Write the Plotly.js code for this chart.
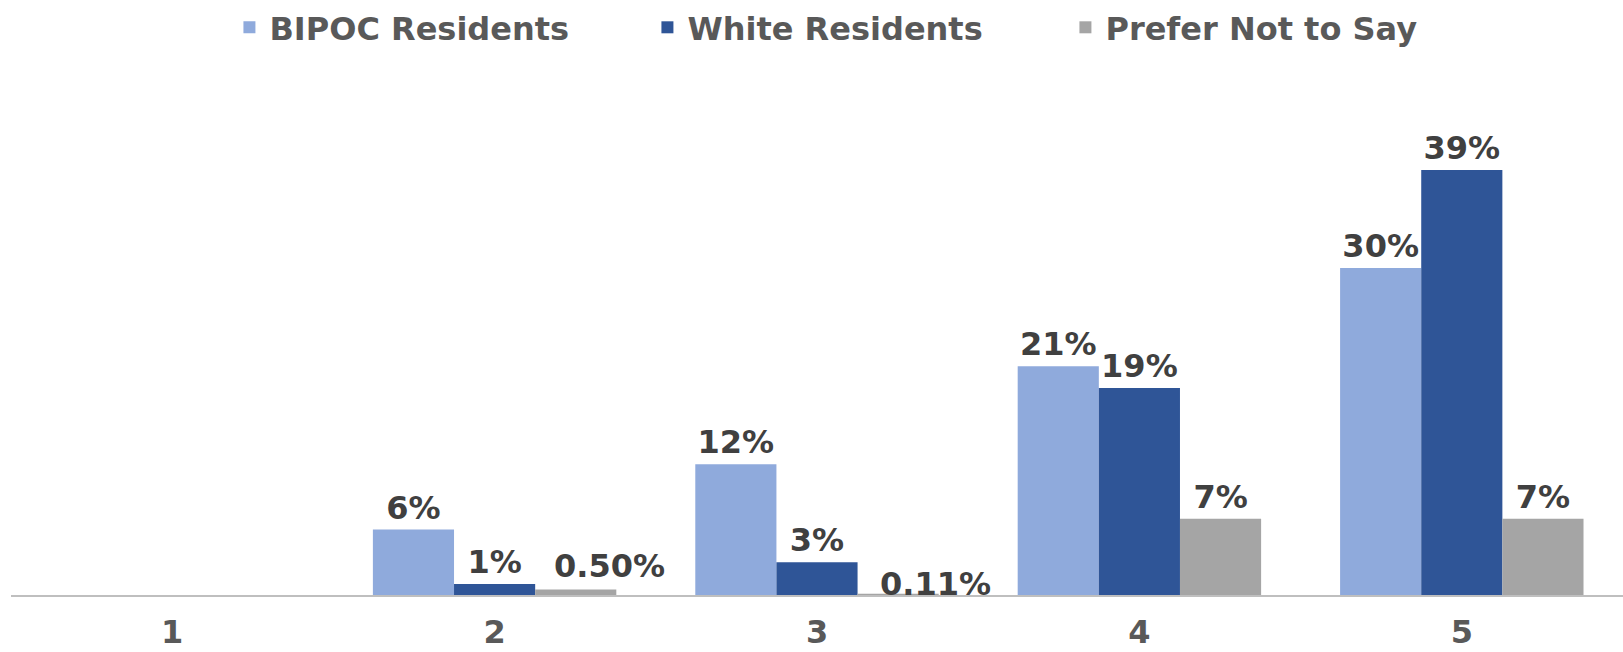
<!DOCTYPE html>
<html>
<head>
<meta charset="utf-8">
<script src="https://cdn.plot.ly/plotly-3.0.1.min.js"></script>
<style>
  html, body { margin: 0; padding: 0; background: #ffffff; }
  #chart { width: 1623px; height: 652px; }
</style>
</head>
<body>
<div id="chart"></div>
<script>
// Rating categories (1-5) and share of respondents in each group
const categories = ['1', '2', '3', '4', '5'];
const bipocValues = [null, 6, 12, 21, 30];
const whiteValues = [null, 1, 3, 19, 39];
const preferValues = [null, 0.5, 0.11, 7, 7];

const seriesNames = ['BIPOC Residents', 'White Residents', 'Prefer Not to Say'];
const seriesColors = ['#8faadc', '#2f5597', '#a5a5a5'];

// Small shares get two decimals, whole shares none
function pctLabel(v) {
  if (v === null) return '';
  return (v < 1 ? v.toFixed(2) : v.toFixed(0)) + '%';
}

const labelFont = { family: 'DejaVu Sans', size: 32, color: '#404040', weight: 'bold' };
const BARGAP = 0.245;

// The two tiny "Prefer Not to Say" labels sit nudged to the right of their bars
const nudged = [1, 2];

function barTrace(name, values, color, idx) {
  const positions = values.map(function (v, i) {
    return (idx === 2 && nudged.indexOf(i) >= 0) ? 'none' : 'outside';
  });
  return {
    type: 'bar',
    name: name,
    x: categories,
    y: values,
    text: values.map(pctLabel),
    textposition: positions,
    textfont: labelFont,
    cliponaxis: false,
    marker: { color: color, line: { width: 0 } },
    hoverinfo: 'skip'
  };
}

const traces = [
  barTrace(seriesNames[0], bipocValues, seriesColors[0], 0),
  barTrace(seriesNames[1], whiteValues, seriesColors[1], 1),
  barTrace(seriesNames[2], preferValues, seriesColors[2], 2)
];

// Offset of the third bar within its group, in category units
const barStep = (1 - BARGAP) / 3;
const nudgeShift = { 1: { dx: 34, dy: 0 }, 2: { dx: 37, dy: -14 } };
const annotations = nudged.map(function (i) {
  return {
    x: i + barStep,
    y: preferValues[i],
    xref: 'x',
    yref: 'y',
    text: pctLabel(preferValues[i]),
    showarrow: false,
    xanchor: 'center',
    yanchor: 'bottom',
    xshift: nudgeShift[i].dx,
    yshift: 3 + nudgeShift[i].dy,
    font: labelFont
  };
});

const layout = {
  width: 1623,
  height: 652,
  margin: { l: 11, r: 0, t: 120, b: 57, pad: 0 },
  paper_bgcolor: '#ffffff',
  plot_bgcolor: '#ffffff',
  barmode: 'group',
  bargap: BARGAP,
  bargroupgap: 0,
  showlegend: true,
  legend: {
    orientation: 'h',
    x: 0.1355,
    xref: 'paper',
    xanchor: 'left',
    y: 1.259,
    yref: 'paper',
    yanchor: 'top',
    entrywidth: 373,
    entrywidthmode: 'pixels',
    itemclick: false,
    itemdoubleclick: false,
    font: { family: 'DejaVu Sans', size: 32, color: '#595959', weight: 'bold' },
    bgcolor: 'rgba(0,0,0,0)'
  },
  xaxis: {
    type: 'category',
    showline: true,
    linecolor: '#bfbfbf',
    linewidth: 2,
    showgrid: false,
    zeroline: false,
    ticks: '',
    ticklabelstandoff: 8,
    tickfont: { family: 'DejaVu Sans', size: 32, color: '#595959', weight: 'bold' },
    fixedrange: true
  },
  yaxis: {
    visible: false,
    range: [0, 43.4],
    showgrid: false,
    zeroline: false,
    fixedrange: true
  },
  annotations: annotations
};

Plotly.newPlot('chart', traces, layout, { displayModeBar: false, staticPlot: true });
</script>
</body>
</html>
